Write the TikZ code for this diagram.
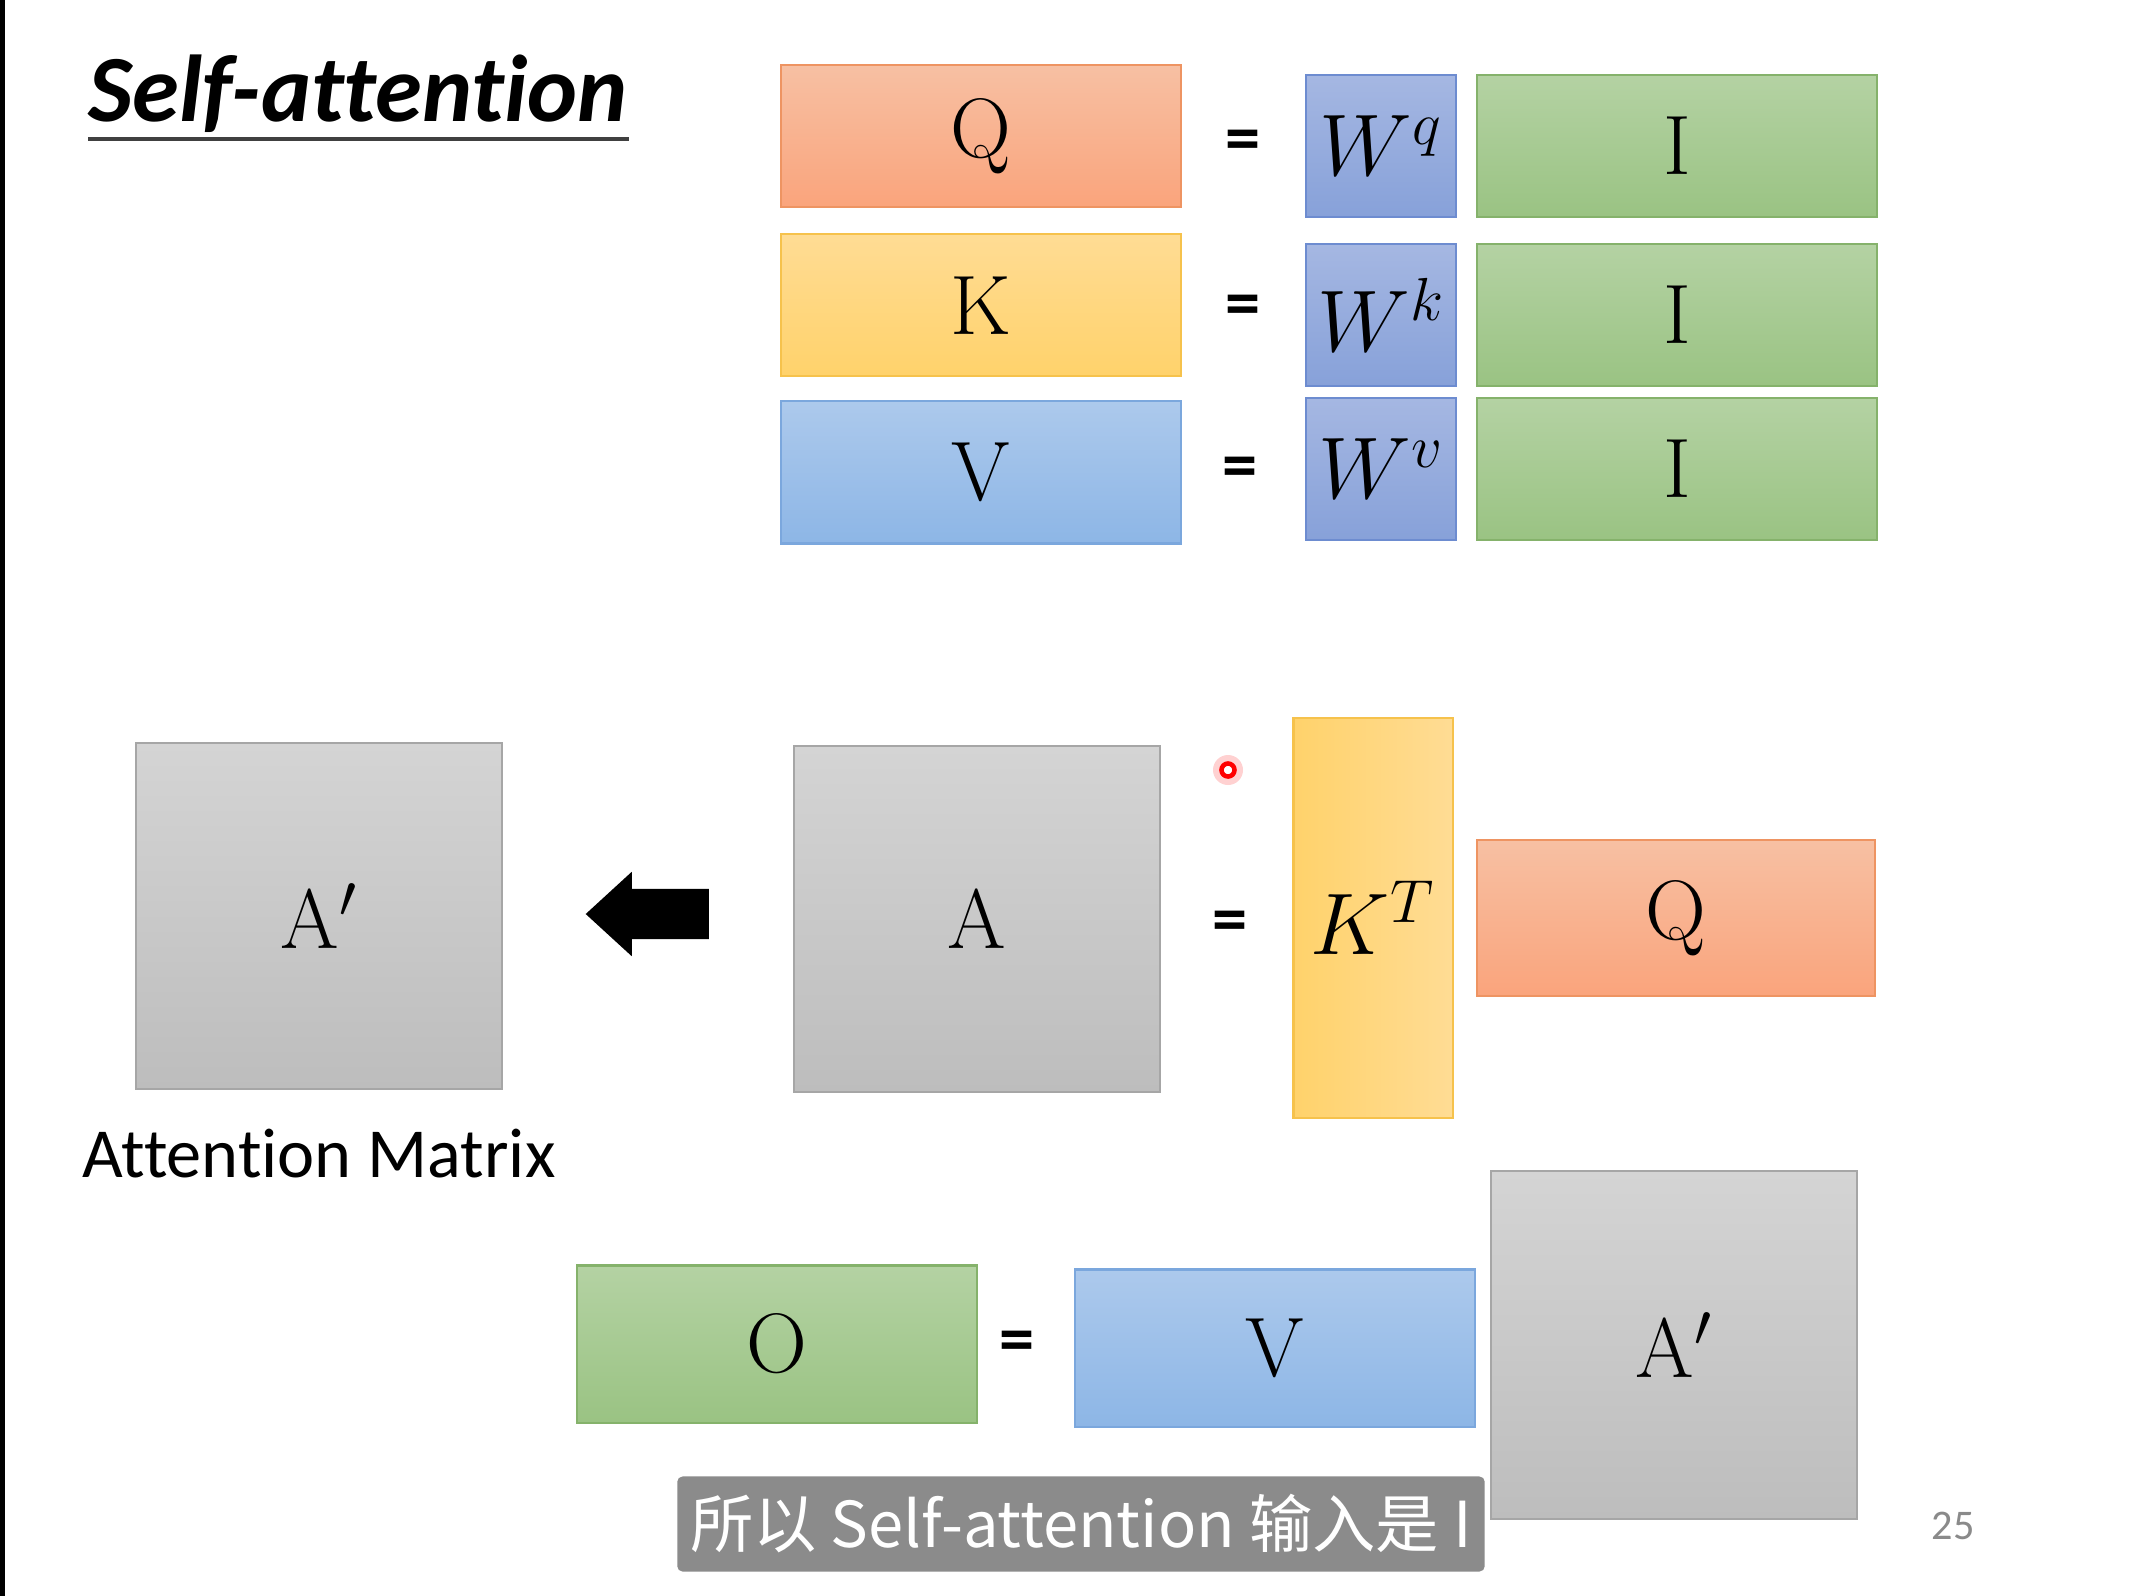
\documentclass[tikz,border=0pt]{standalone}
\usepackage{fontspec}
\newfontfamily\calibri[Ligatures=NoCommon, RawFeature={-liga;-clig;-calt}]{Carlito}
\newfontfamily\cjk{Noto Sans CJK SC}
\usetikzlibrary{positioning, shapes.arrows}
\definecolor{qtop}{HTML}{F7C0A3}
\definecolor{qbot}{HTML}{FAA47C}
\definecolor{qline}{HTML}{EE9462}
\definecolor{ktop}{HTML}{FFDC94}
\definecolor{kbot}{HTML}{FFD26B}
\definecolor{kline}{HTML}{F6C24C}
\definecolor{vtop}{HTML}{ACC9EC}
\definecolor{vbot}{HTML}{8DB6E6}
\definecolor{vline}{HTML}{7BA7DD}
\definecolor{wtop}{HTML}{A5B7E2}
\definecolor{wbot}{HTML}{87A1D9}
\definecolor{wline}{HTML}{6D8CD0}
\definecolor{itop}{HTML}{B4D2A3}
\definecolor{ibot}{HTML}{9AC383}
\definecolor{iline}{HTML}{85B26B}
\definecolor{gtop}{HTML}{D4D4D4}
\definecolor{gbot}{HTML}{BDBDBD}
\definecolor{gline}{HTML}{A6A6A6}
\definecolor{capgrey}{HTML}{8B8B8B}
\definecolor{numgrey}{HTML}{8A8A8A}
\tikzset{
  mat/.style={draw=#1line, top color=#1top, bottom color=#1bot, line width=0.6pt,
    inner sep=0pt, font=\fontsize{24}{28}\selectfont},
  wide/.style={minimum width=4.0cm, minimum height=1.42cm},
  widelow/.style={minimum width=4.0cm, minimum height=1.57cm},
  wsq/.style={minimum width=1.5cm, minimum height=1.42cm},
  sq/.style={minimum width=3.66cm, minimum height=3.46cm},
  tall/.style={minimum width=1.59cm, minimum height=3.99cm},
  eq/.style={font=\calibri\bfseries\fontsize{20}{24}\selectfont, inner sep=0pt},
  title/.style={font=\calibri\bfseries\itshape\fontsize{27}{32}\selectfont, inner sep=0pt},
  note/.style={font=\calibri\fontsize{20}{24}\selectfont, inner sep=0pt},
  blockarrow/.style={single arrow, fill=black, inner sep=0pt, text height=0.49cm, text depth=0pt,
    minimum height=1.23cm, minimum width=0.83cm, single arrow head extend=0.17cm,
    single arrow tip angle=85, shape border rotate=180},
  subtitle/.style={fill=capgrey, text=white, rounded corners=1.5pt, inner sep=0pt,
    minimum width=8.07cm, minimum height=0.95cm, font=\cjk\fontsize{18}{22}\selectfont},
}

\begin{document}
\begin{tikzpicture}[x=0.01cm, y=-0.01cm]
  \useasboundingbox (0,0) rectangle (2138,1596);
  \fill[white] (0,0) rectangle (2138,1596);
  \fill[black] (0,0) rectangle (5,1596);

  % title
  \node[title, anchor=base west] (ttl) at (88,121) {Self-attention};
  \draw[line width=1.1pt, black!75] ([yshift=-0.18cm]ttl.base west) -- ([yshift=-0.18cm]ttl.base east);

  % Q, K, V from I
  \node[mat=q, wide] (q) at (981,136) {Q};
  \node[mat=k, wide, below=0.25cm of q] (k) {K};
  \node[mat=v, wide, below=0.23cm of k] (v) {V};
  \node[mat=w, wsq] (wq) at (1381,146) {$W^q$};
  \node[mat=w, wsq] (wk) at (1381,315) {$W^k$};
  \node[mat=w, wsq] (wv) at (1381,469) {$W^v$};
  \node[mat=i, wide, right=0.19cm of wq] (iq) {I};
  \node[mat=i, wide, right=0.19cm of wk] (ik) {I};
  \node[mat=i, wide, right=0.19cm of wv] (iv) {I};
  \node[eq] (eq1) at (1243,146) {=};
  \node[eq] (eq2) at (1243,311) {=};
  \node[eq] (eq3) at (1240,473) {=};

  % attention matrix
  \node[mat=g, sq] (ap) at (319,916) {A$'$};
  \node[note] (am) at (319,1154) {Attention Matrix};
  \node[blockarrow] (arr) at (661,914) {};
  \node[mat=g, sq] (a) at (977,919) {A};
  \node[eq] (eq4) at (1230,927) {=};
  \node[mat=k, tall, left color=kbot, right color=ktop] (kt) at (1373,918) {$K^T$};
  \node[mat=q, minimum width=3.98cm, minimum height=1.56cm, right=0.22cm of kt] (qb) {Q};
  \fill[red!18] (1228,770) circle[radius=15];
  \node[circle, draw=red, line width=1.3pt, fill=white, minimum size=0.13cm, inner sep=0pt] (ptr) at (1228,770) {};

  % output
  \node[mat=i, widelow] (o) at (777,1344) {O};
  \node[eq] (eq5) at (1017,1347) {=};
  \node[mat=v, widelow] (vb) at (1275,1348) {V};
  \node[mat=g, sq, minimum height=3.48cm] (apb) at (1674,1345) {A$'$};

  \node[subtitle] (cap) at (1081,1524) {所以 Self-attention 输入是 I};
  \node[font=\calibri\fontsize{12}{14}\selectfont, text=numgrey] (num) at (1953,1526) {25};
\end{tikzpicture}
\end{document}
